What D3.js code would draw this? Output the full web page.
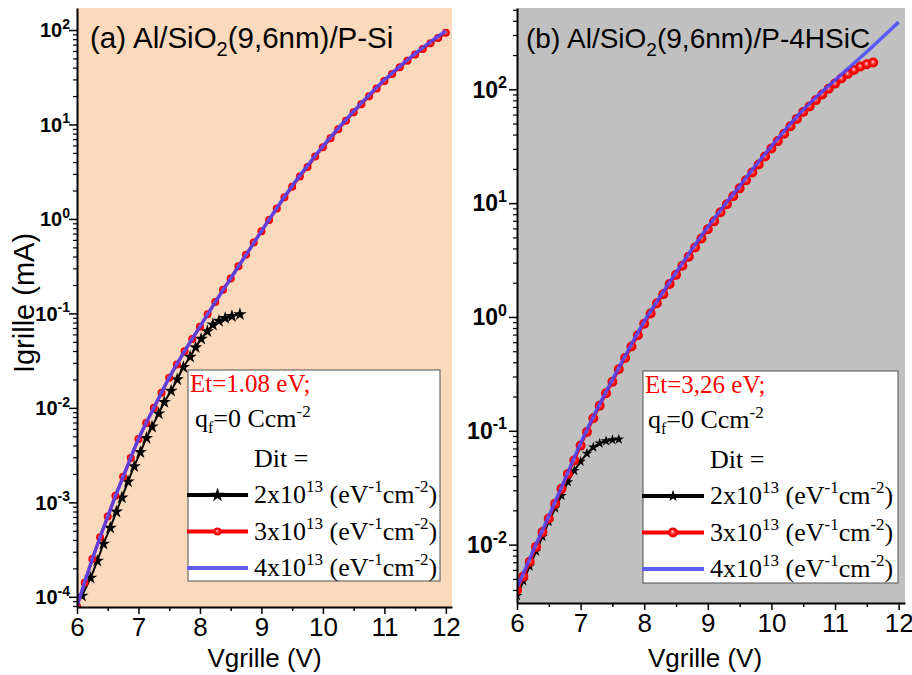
<!DOCTYPE html>
<html>
<head>
<meta charset="utf-8">
<script src="https://cdn.jsdelivr.net/npm/d3@7"></script>
<style>
  body { margin: 0; background: #fff; }
  svg { display: block; }
  text { font-family: "Liberation Sans", Arial, sans-serif; }
  .serif { font-family: "Liberation Serif", "Times New Roman", serif; }
</style>
</head>
<body>
<div id="chart"></div>
<script>
// all current values are log10(Igrille / mA)

// ---- panel (a) Al/SiO2(9,6nm)/P-Si, Et = 1.08 eV
var vA_star = [6.08, 6.22, 6.33, 6.43, 6.54, 6.64, 6.73, 6.83, 6.93, 7.03, 7.13, 7.22, 7.33,
               7.42, 7.53, 7.63, 7.73, 7.84, 7.93, 8.02, 8.12, 8.21, 8.31, 8.41, 8.52, 8.65];
var lgA_star = [-3.99, -3.80, -3.62, -3.44, -3.27, -3.10, -2.95, -2.78, -2.62, -2.47, -2.32, -2.20, -2.06,
                -1.94, -1.82, -1.70, -1.57, -1.46, -1.36, -1.27, -1.19, -1.12, -1.08, -1.05, -1.03, -1.01];

var vA_red = [6, 6.125, 6.25, 6.375, 6.5, 6.625, 6.75, 6.875, 7, 7.125, 7.25, 7.375, 7.5, 7.625, 7.75, 7.875,
              8, 8.125, 8.25, 8.375, 8.5, 8.625, 8.75, 8.875, 9, 9.125, 9.25, 9.375, 9.5, 9.625, 9.75, 9.875,
              10, 10.125, 10.25, 10.375, 10.5, 10.625, 10.75, 10.875, 11, 11.125, 11.25, 11.375, 11.5, 11.625,
              11.75, 11.875, 12];
var lgA_red = [-4.10, -3.85, -3.60, -3.37, -3.15, -2.93, -2.73, -2.53, -2.33, -2.16, -2.00, -1.84, -1.68, -1.54, -1.40, -1.27,
               -1.14, -1.01, -0.88, -0.75, -0.63, -0.50, -0.38, -0.25, -0.13, -0.01, 0.11, 0.23, 0.34, 0.45, 0.55, 0.66,
               0.76, 0.855, 0.95, 1.04, 1.13, 1.215, 1.30, 1.38, 1.46, 1.535, 1.605, 1.675, 1.74, 1.80,
               1.86, 1.915, 1.97];

var vA_blue = [6, 6.25, 6.5, 6.75, 7, 7.25, 7.5, 7.75, 8, 8.25, 8.5, 8.75, 9, 9.25, 9.5, 9.75,
               10, 10.25, 10.5, 10.75, 11, 11.25, 11.5, 11.75, 12];
var lgA_blue = [-4.10, -3.60, -3.15, -2.73, -2.33, -2.00, -1.68, -1.40, -1.14, -0.88, -0.63, -0.38, -0.13, 0.115, 0.35, 0.565,
                0.77, 0.96, 1.14, 1.31, 1.47, 1.615, 1.75, 1.875, 1.99];

// ---- panel (b) Al/SiO2(9,6nm)/P-4HSiC, Et = 3,26 eV
var vB_star = [6.0, 6.1, 6.2, 6.3, 6.4, 6.5, 6.6, 6.7, 6.8, 6.9, 7.0, 7.1, 7.2, 7.3, 7.4, 7.5, 7.6];
var lgB_star = [-2.45, -2.32, -2.19, -2.06, -1.93, -1.80, -1.68, -1.57, -1.45, -1.35, -1.27, -1.20, -1.145,
                -1.11, -1.09, -1.08, -1.075];

var vB_red = [6.0, 6.1, 6.2, 6.3, 6.4, 6.5, 6.6, 6.7, 6.8, 6.9, 7.0, 7.1, 7.2, 7.3, 7.4, 7.5, 7.6, 7.7, 7.8, 7.9,
              8.0, 8.1, 8.2, 8.3, 8.4, 8.5, 8.6, 8.7, 8.8, 8.9, 9.0, 9.1, 9.2, 9.3, 9.4, 9.5, 9.6, 9.7, 9.8, 9.9,
              10.0, 10.1, 10.2, 10.3, 10.4, 10.5, 10.6, 10.7, 10.8, 10.9, 11.0, 11.1, 11.2, 11.3, 11.4, 11.5, 11.6];
var lgB_red = [-2.40, -2.28, -2.15, -2.02, -1.89, -1.77, -1.64, -1.51, -1.38, -1.26, -1.13, -1.01, -0.89, -0.78, -0.67, -0.57, -0.46, -0.36, -0.26, -0.16,
               -0.06, 0.03, 0.12, 0.20, 0.29, 0.37, 0.45, 0.53, 0.61, 0.69, 0.77, 0.84, 0.92, 0.99, 1.06, 1.13, 1.20, 1.27, 1.34, 1.41,
               1.48, 1.545, 1.61, 1.675, 1.74, 1.80, 1.85, 1.905, 1.955, 2.005, 2.05, 2.095, 2.135, 2.17, 2.20, 2.22, 2.235];

var vB_blue = [6, 6.25, 6.5, 6.75, 7, 7.25, 7.5, 7.75, 8, 8.25, 8.5, 8.75, 9, 9.25, 9.5, 9.75,
               10, 10.25, 10.5, 10.75, 11, 11.25, 11.5, 11.75, 12];
var lgB_blue = [-2.38, -2.06, -1.75, -1.43, -1.11, -0.82, -0.55, -0.29, -0.04, 0.18, 0.39, 0.595, 0.79, 0.975, 1.15, 1.33,
                1.50, 1.665, 1.82, 1.955, 2.08, 2.205, 2.33, 2.46, 2.59];

var xTicks = [6, 7, 8, 9, 10, 11, 12];
var xMinor = [6.5, 7.5, 8.5, 9.5, 10.5, 11.5];
var legendDit = ["2", "3", "4"];

var width = 912;
var height = 675;

var svg = d3.select("#chart")
  .append("svg")
  .attr("width", width)
  .attr("height", height);

var defs = svg.append("defs");
var ball = defs.append("radialGradient")
  .attr("id", "ball")
  .attr("fx", "45%").attr("fy", "42%");
ball.append("stop").attr("offset", "0%").attr("stop-color", "#ffe4e4");
ball.append("stop").attr("offset", "30%").attr("stop-color", "#ff5050");
ball.append("stop").attr("offset", "65%").attr("stop-color", "#ff0000");
ball.append("stop").attr("offset", "100%").attr("stop-color", "#e80000");

function pts(v, lg) {
  return v.map(function (d, i) { return [d, Math.pow(10, lg[i])]; });
}

function drawPanel(p) {
  var x = d3.scaleLinear().domain([6, 12.1]).range([p.left, p.right]);
  var y = d3.scaleLog().domain(p.yDomain).range([p.bottom, p.top]);

  var g = svg.append("g");

  g.append("rect")
    .attr("x", p.left).attr("y", p.top)
    .attr("width", p.right - p.left).attr("height", p.bottom - p.top)
    .attr("fill", p.bg);

  defs.append("clipPath").attr("id", "clip" + p.id)
    .append("rect")
    .attr("x", p.left).attr("y", p.top)
    .attr("width", p.right - p.left).attr("height", p.bottom - p.top);

  var plot = g.append("g").attr("clip-path", "url(#clip" + p.id + ")");

  var line = d3.line()
    .x(function (d) { return x(d[0]); })
    .y(function (d) { return y(d[1]); })
    .curve(d3.curveMonotoneX);

  // Dit = 2e13 : black stars
  var star = pts(p.vStar, p.lgStar);
  plot.append("path").datum(star)
    .attr("d", line).attr("fill", "none")
    .attr("stroke", "#000").attr("stroke-width", 2);
  plot.selectAll(".star").data(star).enter().append("path")
    .attr("class", "star")
    .attr("transform", function (d) { return "translate(" + x(d[0]) + "," + y(d[1]) + ")"; })
    .attr("d", d3.symbol().type(d3.symbolStar).size(p.starSize))
    .attr("fill", "#000");

  // Dit = 3e13 : red balls
  var red = pts(p.vRed, p.lgRed);
  plot.append("path").datum(red)
    .attr("d", line).attr("fill", "none")
    .attr("stroke", "#ff0000").attr("stroke-width", 3);
  plot.selectAll(".ball").data(red).enter().append("circle")
    .attr("class", "ball")
    .attr("cx", function (d) { return x(d[0]); })
    .attr("cy", function (d) { return y(d[1]); })
    .attr("r", p.ballR)
    .attr("fill", "url(#ball)");

  // Dit = 4e13 : blue line
  plot.append("path").datum(pts(p.vBlue, p.lgBlue))
    .attr("d", line).attr("fill", "none")
    .attr("stroke", "#4646ff").attr("stroke-opacity", 0.85)
    .attr("stroke-width", 3.5);

  // x axis
  var xa = g.append("g").attr("transform", "translate(0," + p.bottom + ")")
    .call(d3.axisBottom(x).tickValues(xTicks).tickSize(7).tickSizeOuter(0).tickPadding(4)
      .tickFormat(d3.format("d")));
  xa.select(".domain").attr("stroke-width", 2);
  xa.selectAll(".tick line").attr("stroke-width", 1.5);
  xa.selectAll("text").attr("font-size", 26).attr("fill", "#000")
    .attr("font-family", "'Liberation Sans', Arial, sans-serif");
  var xm = g.append("g").attr("transform", "translate(0," + p.bottom + ")")
    .call(d3.axisBottom(x).tickValues(xMinor).tickSize(4).tickFormat(""));
  xm.select(".domain").remove();
  xm.selectAll(".tick line").attr("stroke-width", 1.5);

  g.append("text")
    .attr("x", (p.left + p.right) / 2 - (p.id === "a" ? 0 : 6))
    .attr("y", 667)
    .attr("text-anchor", "middle")
    .attr("font-size", 26)
    .text("Vgrille (V)");

  // y axis
  var lo = Math.ceil(Math.log10(p.yDomain[0]));
  var hi = Math.floor(Math.log10(p.yDomain[1]));
  var decades = d3.range(lo, hi + 1);
  var minor = [];
  d3.range(lo - 1, hi + 1).forEach(function (e) {
    [2, 3, 4, 5, 6, 7, 8, 9].forEach(function (m) {
      var v = m * Math.pow(10, e);
      if (v >= p.yDomain[0] && v <= p.yDomain[1]) minor.push(v);
    });
  });

  var ya = g.append("g").attr("transform", "translate(" + p.left + ",0)")
    .call(d3.axisLeft(y).tickValues(decades.map(function (e) { return Math.pow(10, e); }))
      .tickSize(8).tickSizeOuter(0).tickFormat(""));
  ya.select(".domain").attr("stroke-width", 2);
  ya.selectAll(".tick line").attr("stroke-width", 1.5);
  var ym = g.append("g").attr("transform", "translate(" + p.left + ",0)")
    .call(d3.axisLeft(y).tickValues(minor).tickSize(4).tickFormat(""));
  ym.select(".domain").remove();
  ym.selectAll(".tick line").attr("stroke-width", 1.2);

  decades.forEach(function (e) {
    var t = g.append("text")
      .attr("x", p.left - p.labGap)
      .attr("y", y(Math.pow(10, e)) + p.yFont * 0.36)
      .attr("text-anchor", "end")
      .attr("font-weight", "bold")
      .attr("font-size", p.yFont);
    t.append("tspan").text("10");
    t.append("tspan").attr("dy", -p.yFont * 0.42).attr("font-size", p.yFont * 0.7).text(e);
  });

  // panel title
  var tt = g.append("text").attr("x", p.titleX).attr("y", 48).attr("font-size", p.titleFont);
  tt.append("tspan").text(p.tag);
  tt.append("tspan").attr("x", p.titleX2).text("Al/SiO");
  tt.append("tspan").attr("dy", 8).attr("font-size", p.titleFont * 0.68).text("2");
  tt.append("tspan").attr("dy", -8).text("(9,6nm)/P-" + p.sub);

  // legend
  var L = p.leg;
  var lg = g.append("g");
  lg.append("rect")
    .attr("x", L.x).attr("y", L.y).attr("width", L.w).attr("height", L.h)
    .attr("fill", "#fff").attr("stroke", "#505050").attr("stroke-width", 1);
  lg.append("text").attr("class", "serif")
    .attr("x", L.x + 2).attr("y", L.y + 22)
    .attr("font-size", 25).attr("fill", "#ff0000")
    .text("Et=" + p.et + " eV;");
  var q = lg.append("text").attr("class", "serif")
    .attr("x", L.x + L.qdx).attr("y", L.y + 57).attr("font-size", 26);
  q.append("tspan").text("q");
  q.append("tspan").attr("dy", 6).attr("font-size", 16).text("f");
  q.append("tspan").attr("dy", -6).text("=0 Ccm");
  q.append("tspan").attr("dy", -10).attr("font-size", 17).text("-2");
  lg.append("text").attr("class", "serif")
    .attr("x", L.tx).attr("y", L.y + 97).attr("font-size", 26).text("Dit =");

  legendDit.forEach(function (k, i) {
    var ly = L.y + 125 + i * 36.5;
    var col = ["#000", "#ff0000", "#5e5ef0"][i];
    lg.append("line")
      .attr("x1", L.x - 1).attr("x2", L.tx - 6)
      .attr("y1", ly).attr("y2", ly)
      .attr("stroke", col).attr("stroke-width", 4);
    var mx = (L.x - 1 + L.tx - 6) / 2;
    if (i === 0) {
      lg.append("path")
        .attr("transform", "translate(" + mx + "," + ly + ")")
        .attr("d", d3.symbol().type(d3.symbolStar).size(p.starSize + 10))
        .attr("fill", "#000");
    } else if (i === 1) {
      lg.append("circle").attr("cx", mx).attr("cy", ly).attr("r", p.ballR)
        .attr("fill", "url(#ball)");
    }
    var t = lg.append("text").attr("class", "serif")
      .attr("x", L.tx).attr("y", ly + 8).attr("font-size", 26);
    t.append("tspan").text(k + "x10");
    t.append("tspan").attr("dy", -11).attr("font-size", 17).text("13");
    t.append("tspan").attr("dy", 11).text(" (eV");
    t.append("tspan").attr("dy", -11).attr("font-size", 17).text("-1");
    t.append("tspan").attr("dy", 11).text("cm");
    t.append("tspan").attr("dy", -11).attr("font-size", 17).text("-2");
    t.append("tspan").attr("dy", 11).text(")");
  });
}

drawPanel({
  id: "a", left: 77, right: 452, top: 8, bottom: 607,
  yDomain: [7.8e-5, 171], bg: "#fad9bd",
  vStar: vA_star, lgStar: lgA_star, vRed: vA_red, lgRed: lgA_red, vBlue: vA_blue, lgBlue: lgA_blue,
  starSize: 55, ballR: 4, yFont: 20, labGap: 7,
  tag: "(a)", titleX: 90, titleX2: 133, titleFont: 29.5, sub: "Si",
  et: "1.08",
  leg: { x: 188, y: 370, w: 252, h: 211, tx: 254, qdx: 7 }
});

drawPanel({
  id: "b", left: 517, right: 905, top: 8, bottom: 603,
  yDomain: [3.07e-3, 518], bg: "#c0c0c0",
  vStar: vB_star, lgStar: lgB_star, vRed: vB_red, lgRed: lgB_red, vBlue: vB_blue, lgBlue: lgB_blue,
  starSize: 35, ballR: 5, yFont: 23, labGap: 10,
  tag: "(b)", titleX: 526, titleX2: 567, titleFont: 28, sub: "4HSiC",
  et: "3,26",
  leg: { x: 643, y: 371, w: 255, h: 212, tx: 710, qdx: 5 }
});

// shared y title
svg.append("text")
  .attr("transform", "translate(34,303) rotate(-90)")
  .attr("text-anchor", "middle")
  .attr("font-size", 29)
  .text("Igrille (mA)");
</script>
</body>
</html>
